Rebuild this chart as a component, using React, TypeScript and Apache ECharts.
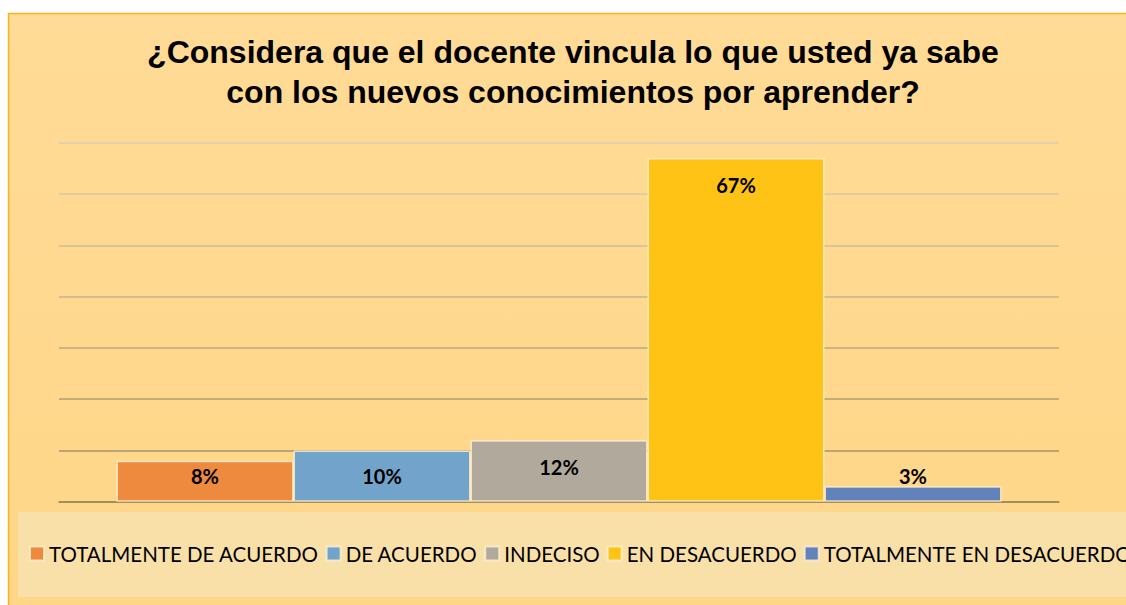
import React, { useEffect, useRef } from "react";
import * as echarts from "echarts";

const titleLines = [
  "¿Considera que el docente vincula lo que usted ya sabe",
  "con los nuevos conocimientos por aprender?",
];
const categories = [""];
const seriesNames = [
  "TOTALMENTE DE ACUERDO",
  "DE ACUERDO",
  "INDECISO",
  "EN DESACUERDO",
  "TOTALMENTE EN DESACUERDO",
];
const seriesValues = [8, 10, 12, 67, 3];
const seriesColors = ["#EE8A3D", "#72A4CB", "#B1AA9C", "#FFC316", "#6282BB"];
const labelPositions = ["insideTop", "inside", "insideTop", "insideTop", "top"];
const labelDistances = [5, 0, 17, 17, 0];
const yMin = 0;
const yMax = 70;
const yInterval = 10;

export default function App() {
  const ref = useRef<HTMLDivElement>(null);
  useEffect(() => {
    if (!ref.current) return;
    const chart = echarts.init(ref.current, null, { renderer: "svg" });
    const series = seriesNames.map((name, i) => ({
      name,
      type: "bar",
      data: [seriesValues[i]],
      barGap: "0%",
      barCategoryGap: "11.5%",
      itemStyle: {
        color: seriesColors[i],
        borderColor: "rgba(255,240,210,0.8)",
        borderWidth: 1.5,
      },
      label: {
        show: true,
        position: labelPositions[i],
        distance: labelDistances[i],
        formatter: "{c}%",
        color: "#000",
        fontFamily: "Lato",
        fontWeight: "bold",
        fontSize: 20,
      },
    }));
    chart.setOption({
      animation: false,
      backgroundColor: "#ffffff",
      graphic: [
        {
          type: "rect",
          z: -10,
          silent: true,
          shape: { x: 8.5, y: 13.5, width: 1130, height: 600 },
          style: {
            fill: new echarts.graphic.LinearGradient(0, 0, 0, 1, [
              { offset: 0, color: "#FFDB97" },
              { offset: 1, color: "#FFD687" },
            ]),
            stroke: "#F2B618",
            lineWidth: 1.5,
          },
        },
        {
          type: "rect",
          z: -9,
          silent: true,
          shape: { x: 18, y: 512, width: 1120, height: 85 },
          style: { fill: "#F9E0A9" },
        },
        ...titleLines.map((t, i) => ({
          type: "text",
          x: 573,
          y: 52 + i * 40,
          style: {
            text: t,
            fontFamily: "Liberation Sans",
            fontWeight: "bold",
            fontSize: 32,
            fill: "#000",
            align: "center",
            verticalAlign: "middle",
          },
        })),
      ],
      legend: {
        show: true,
        left: 29,
        top: 543,
        padding: 0,
        width: 3000,
        itemWidth: 14,
        itemHeight: 14,
        itemGap: 7,
        icon: "rect",
        textStyle: {
          fontFamily: "Lato",
          fontSize: 20.5,
          color: "#000",
        },
      },
      grid: { left: 59, right: 67, top: 142.7, bottom: 103.3, containLabel: false },
      xAxis: {
        type: "category",
        data: categories,
        axisLine: { show: true, lineStyle: { color: "#9C8A5E", width: 1.5 } },
        axisTick: { show: false },
        axisLabel: { show: false },
      },
      yAxis: {
        type: "value",
        min: yMin,
        max: yMax,
        interval: yInterval,
        axisLabel: { show: false },
        axisLine: { show: false },
        axisTick: { show: false },
        splitLine: {
          show: true,
          lineStyle: {
            width: 1.5,
            color: [
              "#9C8A5E",
              "#A69469",
              "#AF9E74",
              "#B8A880",
              "#C2B38D",
              "#CBBD9A",
              "#D3C6A6",
              "#DACFB2",
            ],
          },
        },
      },
      series,
    });
    return () => chart.dispose();
  }, []);
  return (
    <div
      ref={ref}
      style={{ position: "absolute", left: 0, top: 0, width: 1126, height: 605 }}
    />
  );
}
